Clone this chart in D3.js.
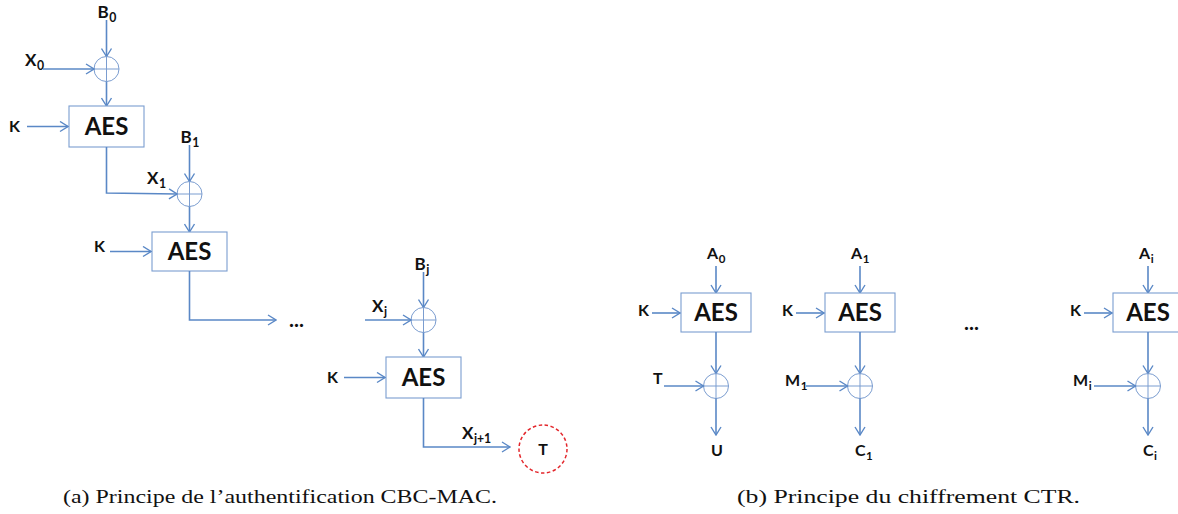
<!DOCTYPE html>
<html>
<head>
<meta charset="utf-8">
<script src="https://cdn.jsdelivr.net/npm/d3@7"></script>
<style>
  body { margin: 0; background: #fff; }
  svg { display: block; }
  .lbl { font-family: Lato, "Open Sans", sans-serif; font-weight: bold; fill: #111; }
  .aes { font-family: Lato, "Open Sans", sans-serif; font-weight: bold; fill: #111; font-size: 24px; }
  .cap { font-family: "Liberation Serif", "DejaVu Serif", serif; fill: #111; font-size: 18px; }
</style>
</head>
<body>
<svg id="fig" width="1178" height="514"></svg>
<script>
// chart content
const cbcBlockSubs = ['0', '1', 'j']        // B_x inputs
const cbcChainSubs = ['0', '1', 'j']        // X_x chaining values
const cbcOutSub = 'j+1'
const cbcTag = 'T'
const ctrCounterSubs = ['0', '1', 'i']      // A_x counters
const ctrInputs = [['T', ''], ['M', '1'], ['M', 'i']]
const ctrOutputs = [['U', ''], ['C', '1'], ['C', 'i']]
const keyLabel = 'K'
const cipherName = 'AES'
const ellipsis = '...'
const captions = ['(a) Principe de l\u2019authentification CBC-MAC.', '(b) Principe du chiffrement CTR.']

// layout
const blue = '#5a88c6'
const boxStroke = '#7a9dd0'
const xorR = 12.5
const cbcX = [106.5, 189.5, 423.5]
const cbcXorY = [69, 194, 320]
const cbcBoxTop = [106, 232, 357]
const cbcBoxW = 75, cbcBoxH = [41, 39, 41]
const ctrX = d3.scalePoint().domain(['0', '1', 'gap', 'i']).range([716, 1148])
const ctrBoxTop = 293, ctrBoxW = 70, ctrBoxH = 39, ctrXorY = 386

const svg = d3.select('#fig')
svg.append('rect').attr('width', 1178).attr('height', 514).attr('fill', '#fff')

svg.append('defs').append('marker')
    .attr('id', 'arr')
    .attr('viewBox', '-1 -6 10 12')
    .attr('refX', 8).attr('refY', 0)
    .attr('markerWidth', 10).attr('markerHeight', 12)
    .attr('markerUnits', 'userSpaceOnUse')
    .attr('orient', 'auto')
  .append('path')
    .attr('d', 'M0,-5L8,0L0,5')
    .attr('fill', 'none')
    .attr('stroke', blue)
    .attr('stroke-width', 1.4)

const g = svg.append('g')

function wire(pts, arrow = true) {
    g.append('path')
        .attr('d', d3.line()(pts))
        .attr('fill', 'none')
        .attr('stroke', blue)
        .attr('stroke-width', 1.6)
        .attr('marker-end', arrow ? 'url(#arr)' : null)
}

function label(x, y, main, sub, size = 16, anchor = 'start') {
    const t = g.append('text').attr('class', 'lbl')
        .attr('x', x).attr('y', y)
        .attr('font-size', size)
        .attr('text-anchor', anchor)
    t.append('tspan').text(main)
    if (sub) t.append('tspan').attr('dx', 0.5).attr('dy', 4).attr('font-size', size * 0.72).text(sub)
    return t
}

function xor(cx, cy) {
    g.append('circle')
        .attr('cx', cx).attr('cy', cy).attr('r', xorR)
        .attr('fill', 'none').attr('stroke', '#7b9dd0').attr('stroke-width', 1)
    g.append('path')
        .attr('d', `M${cx - xorR},${cy}H${cx + xorR}M${cx},${cy - xorR}V${cy + xorR}`)
        .attr('stroke', '#7b9dd0').attr('stroke-width', 1)
}

function aesBox(cx, top, w, h) {
    g.append('rect')
        .attr('x', cx - w / 2).attr('y', top)
        .attr('width', w).attr('height', h)
        .attr('fill', '#fff').attr('stroke', boxStroke).attr('stroke-width', 1.1)
    g.append('text').attr('class', 'aes')
        .attr('x', cx).attr('y', top + h / 2 + 8.5)
        .attr('text-anchor', 'middle')
        .text(cipherName)
}

// ---- (a) CBC-MAC ----
const bLabelY = [18, 143, 270]
const xLabel = [[25, 66], [147, 184], [372, 312]]
const keyPos = [[9, 132, 27], [94, 252, 110], [327, 383, 344]]

cbcBlockSubs.forEach((s, i) => {
    const cx = cbcX[i], cy = cbcXorY[i], top = cbcBoxTop[i], h = cbcBoxH[i]
    label(cx - 9, bLabelY[i], 'B', s, 17)
    wire([[cx, bLabelY[i] + 2], [cx, cy - xorR]])
    xor(cx, cy)
    wire([[cx, cy + xorR], [cx, top]])
    aesBox(cx, top, cbcBoxW, h)
    // key
    label(keyPos[i][0], keyPos[i][1], keyLabel, '', 16)
    wire([[keyPos[i][2], top + h / 2], [cx - cbcBoxW / 2 - 1, top + h / 2]])
    // chaining value label
    label(xLabel[i][0], xLabel[i][1], 'X', cbcChainSubs[i], 17)
})

// X0 input
wire([[43, cbcXorY[0]], [cbcX[0] - xorR, cbcXorY[0]]])
// stage 0 -> stage 1
wire([[cbcX[0], cbcBoxTop[0] + cbcBoxH[0]], [cbcX[0], cbcXorY[1] - 1], [cbcX[1] - xorR, cbcXorY[1]]])
// stage 1 -> ...
wire([[cbcX[1], cbcBoxTop[1] + cbcBoxH[1]], [cbcX[1], cbcXorY[2]], [276, cbcXorY[2]]])
g.append('text').attr('class', 'lbl').attr('x', 289).attr('y', 327).attr('font-size', 21).text(ellipsis)
// Xj input
wire([[365, cbcXorY[2]], [cbcX[2] - xorR, cbcXorY[2]]])
// output
const outY = 447
wire([[cbcX[2], cbcBoxTop[2] + cbcBoxH[2]], [cbcX[2], outY], [510, outY]])
label(462, 439, 'X', cbcOutSub, 17)
g.append('circle')
    .attr('cx', 543).attr('cy', 449).attr('r', 24)
    .attr('fill', 'none').attr('stroke', '#e3262b')
    .attr('stroke-width', 1.5).attr('stroke-dasharray', '3.5,2.5')
label(543, 455, cbcTag, '', 16, 'middle')

// ---- (b) CTR ----
ctrCounterSubs.forEach((s, i) => {
    const cx = ctrX(s)
    label(cx - 9, 259, 'A', s, 16)
    wire([[cx, 266], [cx, ctrBoxTop]])
    aesBox(cx, ctrBoxTop, ctrBoxW, ctrBoxH)
    label(cx - 78, 316, keyLabel, '', 16)
    wire([[cx - 64, ctrBoxTop + 20], [cx - ctrBoxW / 2 - 1, ctrBoxTop + 20]])
    wire([[cx, ctrBoxTop + ctrBoxH], [cx, ctrXorY - xorR]])
    xor(cx, ctrXorY)
    const [m, ms] = ctrInputs[i]
    label(cx - (ms ? 75 : 63), ms ? 386 : 384, m, ms, 16)
    wire([[cx - (ms ? 54 : 52), ctrXorY], [cx - xorR, ctrXorY]])
    wire([[cx, ctrXorY + xorR], [cx, 435]])
    const [c, cs] = ctrOutputs[i]
    label(cx - 5, 456, c, cs, 16)
})
g.append('text').attr('class', 'lbl').attr('x', 964).attr('y', 330).attr('font-size', 21).text(ellipsis)

// captions
const capX = [63, 737], capW = [434, 343]
captions.forEach((c, i) => {
    g.append('text').attr('class', 'cap')
        .attr('x', capX[i]).attr('y', 503)
        .attr('textLength', capW[i])
        .attr('lengthAdjust', 'spacingAndGlyphs')
        .text(c)
})
</script>
</body>
</html>
